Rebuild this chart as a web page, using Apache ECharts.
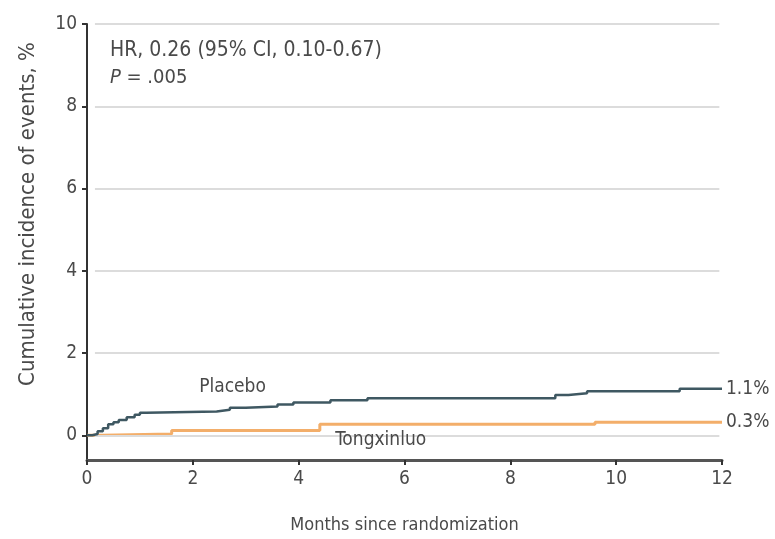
<!DOCTYPE html>
<html><head><meta charset="utf-8">
<script src="https://cdn.jsdelivr.net/npm/echarts@6/dist/echarts.min.js"></script>
<style>html,body{margin:0;padding:0;background:#fff}#c{width:775px;height:539px}</style>
</head><body><div id="c"></div>
<script>
// Data (months, cumulative incidence %)
const placeboMonths = [0, 0.1, 0.2, 0.3, 0.4, 0.5, 0.6, 0.75, 0.9, 1.0, 1.12, 2.45, 2.7, 3.0, 3.6, 3.9, 4.6, 5.3, 8.85, 9.1, 9.45, 11.2, 12];
const placeboValues = [0, 0.03, 0.1, 0.17, 0.27, 0.32, 0.37, 0.44, 0.5, 0.55, 0.58, 0.62, 0.67, 0.7, 0.75, 0.8, 0.85, 0.9, 0.98, 1.02, 1.07, 1.13, 1.13];
const tongMonths = [0, 0.3, 1.6, 4.4, 9.6, 12];
const tongValues = [0, 0.03, 0.12, 0.27, 0.32, 0.32];
const yTicks = [0, 2, 4, 6, 8, 10];
const endLabels = ['1.1%', '0.3%'];
const seriesNames = ['Placebo', 'Tongxinluo'];
const hrText = 'HR, 0.26 (95% CI, 0.10-0.67)';
const yTitle = 'Cumulative incidence of events, %';
const xTitle = 'Months since randomization';

const FONT = '"Liberation Sans Narrow", "DejaVu Sans Condensed", sans-serif';
const TXT = '#4a4a4a';
const pair = (xs, ys) => xs.map((x, i) => [x, ys[i]]);

const chart = echarts.init(document.getElementById('c'));
chart.setOption({
  animation: false,
  grid: { left: 87, right: 53, top: 24, bottom: 78 },
  xAxis: {
    type: 'value', min: 0, max: 12, interval: 2,
    axisLine: { onZero: false, lineStyle: { color: '#555', width: 3 } },
    axisTick: { length: 5, lineStyle: { color: '#333', width: 2 } },
    axisLabel: { fontFamily: FONT, fontSize: 19, color: TXT, margin: 10 },
    splitLine: { show: false },
    name: xTitle, nameLocation: 'middle', nameGap: 56,
    nameTextStyle: { fontFamily: FONT, fontSize: 18, color: TXT }
  },
  yAxis: {
    type: 'value', min: -0.6, max: 10,
    axisLine: { show: true, lineStyle: { color: '#333', width: 2 } },
    axisTick: { show: true, length: 5, inside: false, customValues: yTicks, lineStyle: { color: '#333', width: 2 } },
    axisLabel: { customValues: yTicks, fontFamily: FONT, fontSize: 19, color: TXT, margin: 10 },
    splitLine: { show: false }
  },
  series: [
    {
      name: seriesNames[0], type: 'line', step: 'end', symbol: 'none',
      data: pair(placeboMonths, placeboValues),
      lineStyle: { color: '#3f5862', width: 2.5 }, z: 5,
      endLabel: { show: true, formatter: endLabels[0], fontFamily: FONT, fontSize: 19, color: TXT, distance: 4 },
      markLine: {
        silent: true, symbol: 'none', label: { show: false },
        lineStyle: { color: '#dcdcdc', width: 2, type: 'solid' },
        data: yTicks.map(v => [{ coord: [0.15, v] }, { coord: [11.95, v] }])
      },
      markPoint: {
        symbol: 'circle', symbolSize: 0,
        label: { show: true, formatter: seriesNames[0], fontFamily: FONT, fontSize: 19, color: TXT, position: 'inside' },
        data: [{ coord: [2.75, 1.17] }]
      }
    },
    {
      name: seriesNames[1], type: 'line', step: 'end', symbol: 'none',
      data: pair(tongMonths, tongValues),
      lineStyle: { color: '#f3ae6a', width: 3 }, z: 4,
      endLabel: { show: true, formatter: endLabels[1], fontFamily: FONT, fontSize: 19, color: TXT, distance: 4 },
      markPoint: {
        symbol: 'circle', symbolSize: 0,
        label: { show: true, formatter: seriesNames[1], fontFamily: FONT, fontSize: 19, color: TXT, position: 'inside' },
        data: [{ coord: [5.55, -0.12] }]
      }
    }
  ],
  graphic: [
    { type: 'text', x: 28, y: 214, rotation: Math.PI / 2, style: { text: yTitle, font: '22px ' + FONT, fill: TXT, align: 'center', verticalAlign: 'middle' } },
    { type: 'text', left: 110, top: 40, style: { text: hrText, font: '21px ' + FONT, fill: TXT } },
    { type: 'text', left: 110, top: 68, style: { rich: { i: { fontStyle: 'italic', fontFamily: FONT, fontSize: 20, fill: TXT }, n: { fontFamily: FONT, fontSize: 20, fill: TXT } }, text: '{i|P}{n| = .005}' } }
  ]
});
</script></body></html>
